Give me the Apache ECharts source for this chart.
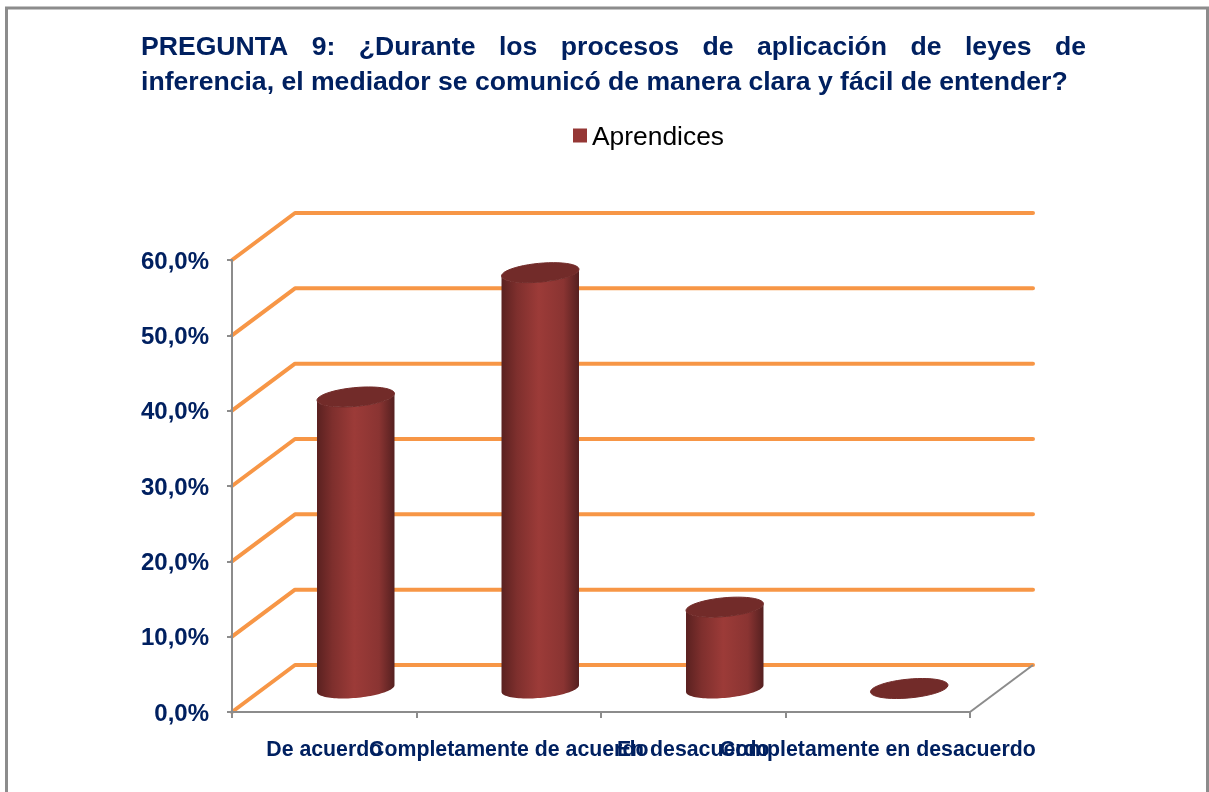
<!DOCTYPE html>
<html>
<head>
<meta charset="utf-8">
<title>Pregunta 9</title>
<script src="https://cdn.jsdelivr.net/npm/echarts@6/dist/echarts.min.js"></script>
<style>
html, body { margin: 0; padding: 0; background: #fff; }
#chart { width: 1209px; height: 792px; }
</style>
</head>
<body>
<div id="chart"></div>
<script>
const titleLine1 = ['PREGUNTA', '9:', '¿Durante', 'los', 'procesos', 'de', 'aplicación', 'de', 'leyes', 'de']
const titleLine2 = 'inferencia, el mediador se comunicó de manera clara y fácil de entender?'
const categories = ['De acuerdo', 'Completamente de acuerdo', 'En desacuerdo', 'Completamente en desacuerdo']
const seriesName = 'Aprendices'
const aprendices = [38.7, 55.2, 10.8, 0]
const wallTicks = [0, 10, 20, 30, 40, 50, 60]

const NAVY = '#002060'
const ORANGE = '#F79646'
const AXIS_GRAY = '#8c8c8c'
const FONT = '"Liberation Sans", Arial, sans-serif'
const TITLE_FONT_SIZE = 26.6

// oblique offset of the back wall and of the cylinders, as in the 3D original
const DEPTH_X = 63
const DEPTH_Y = -47
const RADIUS_X = 36.5
const RADIUS_DX = 13
const RADIUS_DY = -10

const measure = document.createElement('canvas').getContext('2d')
measure.font = `bold ${TITLE_FONT_SIZE}px ${FONT}`

// the first title line is justified between these two x
function justifiedTitles(words, left, right, top) {
  const widths = words.map(w => measure.measureText(w).width)
  const gap = (right - left - widths.reduce((a, b) => a + b, 0)) / (words.length - 1)
  let x = left
  return words.map((w, i) => {
    const item = titleItem(w, x, top)
    x += widths[i] + gap
    return item
  })
}

function titleItem(text, left, top) {
  return {
    text,
    left,
    top,
    padding: 0,
    textStyle: { color: NAVY, fontFamily: FONT, fontWeight: 'bold', fontSize: TITLE_FONT_SIZE },
  }
}

function ellipsePoint(cx, cy, t) {
  return [
    cx + RADIUS_X * Math.cos(t) + RADIUS_DX * Math.sin(t),
    cy + RADIUS_DY * Math.sin(t),
  ]
}

function ellipsePoints(cx, cy, from, to) {
  const pts = []
  for (let i = 0; i <= 48; i++) pts.push(ellipsePoint(cx, cy, from + ((to - from) * i) / 48))
  return pts
}

function renderWall(params, api) {
  const cs = params.coordSys
  const y = api.coord([0, api.value(0)])[1]
  return {
    type: 'polyline',
    shape: {
      points: [
        [cs.x, y],
        [cs.x + DEPTH_X, y + DEPTH_Y],
        [cs.x + cs.width + DEPTH_X, y + DEPTH_Y],
      ],
    },
    style: { stroke: ORANGE, lineWidth: 4, fill: null, lineCap: 'round', lineJoin: 'round' },
  }
}

function renderCylinder(params, api) {
  const base = api.coord([api.value(0), 0])
  const top = api.coord([api.value(0), api.value(1)])
  const cx = base[0] + DEPTH_X / 2
  const by = base[1] + DEPTH_Y / 2
  const ty = top[1] + DEPTH_Y / 2
  const cap = {
    type: 'polygon',
    shape: { points: ellipsePoints(cx, ty, 0, Math.PI * 2) },
    style: { fill: '#722B29', stroke: '#722B29', lineWidth: 1 },
  }
  if (api.value(1) === 0) return cap
  // silhouette runs between the two x extremes of the skewed ellipse
  const t0 = Math.atan2(RADIUS_DX, RADIUS_X)
  const body = {
    type: 'polygon',
    shape: {
      points: [
        ...ellipsePoints(cx, ty, t0 + Math.PI, t0 + Math.PI * 2),
        ...ellipsePoints(cx, by, t0, t0 - Math.PI),
      ],
    },
    style: {
      fill: new echarts.graphic.LinearGradient(0, 0, 1, 0, [
        { offset: 0, color: '#5A2120' },
        { offset: 0.2, color: '#7E2F2D' },
        { offset: 0.48, color: '#9C3B38' },
        { offset: 0.8, color: '#8A3432' },
        { offset: 1, color: '#552020' },
      ]),
    },
  }
  return { type: 'group', children: [body, cap] }
}

const chart = echarts.init(document.getElementById('chart'), null, { renderer: 'canvas' })

chart.setOption({
  animation: false,
  backgroundColor: '#fff',
  title: [
    ...justifiedTitles(titleLine1, 141, 1086, 34),
    titleItem(titleLine2, 141, 69),
  ],
  legend: {
    data: [seriesName],
    left: 573,
    top: 125,
    padding: 0,
    itemWidth: 14,
    itemHeight: 14,
    itemGap: 5,
    icon: 'rect',
    formatter: name => `{t|${name}}`,
    textStyle: {
      rich: { t: { color: '#000', fontFamily: FONT, fontSize: 26.4, padding: [5, 0, 0, 0] } },
    },
  },
  graphic: [
    {
      type: 'rect',
      z: -1,
      shape: { x: 6.5, y: 8, width: 1201, height: 800 },
      style: { fill: null, stroke: AXIS_GRAY, lineWidth: 3 },
      silent: true,
    },
  ],
  grid: { left: 232, top: 260, width: 738, height: 452, containLabel: false },
  xAxis: {
    type: 'category',
    data: categories,
    z: 3,
    axisLine: { lineStyle: { color: AXIS_GRAY, width: 2 } },
    axisTick: { show: true, length: 6, lineStyle: { color: AXIS_GRAY, width: 2 } },
    axisLabel: {
      interval: 0,
      hideOverlap: false,
      margin: 28,
      color: NAVY,
      fontFamily: FONT,
      fontWeight: 'bold',
      fontSize: 21.3,
    },
  },
  yAxis: {
    type: 'value',
    min: 0,
    max: 60,
    interval: 10,
    z: 3,
    splitLine: { show: false },
    axisLine: { show: true, lineStyle: { color: AXIS_GRAY, width: 2 } },
    axisTick: { show: true, length: 5, lineStyle: { color: AXIS_GRAY, width: 2 } },
    axisLabel: {
      margin: 23,
      formatter: v => `{v|${v.toFixed(1).replace('.', ',')}%}`,
      rich: {
        v: { color: NAVY, fontFamily: FONT, fontWeight: 'bold', fontSize: 24, padding: [4, 0, 0, 0] },
      },
    },
  },
  series: [
    {
      name: 'Pared',
      type: 'custom',
      z: 1,
      silent: true,
      clip: false,
      coordinateSystem: 'cartesian2d',
      renderItem: renderWall,
      encode: { y: 0 },
      data: wallTicks.map(v => [v]),
    },
    {
      // edge of the floor, from the end of the x axis to the back wall
      name: 'Piso',
      type: 'custom',
      z: 2,
      silent: true,
      clip: false,
      coordinateSystem: 'cartesian2d',
      renderItem: (params, api) => {
        const cs = params.coordSys
        return {
          type: 'line',
          shape: { x1: cs.x + cs.width, y1: cs.y + cs.height, x2: cs.x + cs.width + DEPTH_X, y2: cs.y + cs.height + DEPTH_Y },
          style: { stroke: AXIS_GRAY, lineWidth: 2 },
        }
      },
      data: [[0]],
    },
    {
      name: seriesName,
      type: 'custom',
      z: 4,
      clip: false,
      coordinateSystem: 'cartesian2d',
      itemStyle: { color: '#953735' },
      renderItem: renderCylinder,
      encode: { x: 0, y: 1 },
      data: aprendices.map((v, i) => [i, v]),
    },
  ],
})
</script>
</body>
</html>
